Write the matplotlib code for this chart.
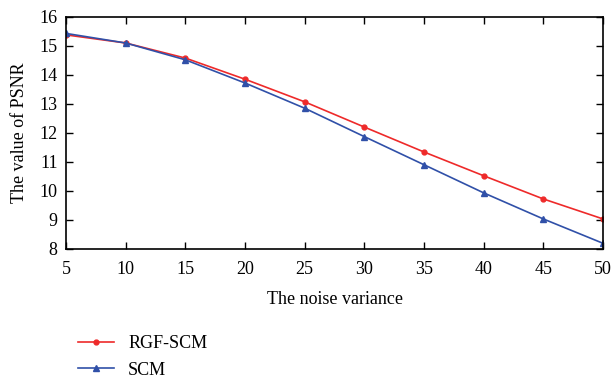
import matplotlib
matplotlib.use("Agg")
import matplotlib.pyplot as plt

plt.rcParams['font.family'] = ['Liberation Serif', 'DejaVu Serif']

noise = [5, 10, 15, 20, 25, 30, 35, 40, 45, 50]
rgf_scm = [15.38, 15.10, 14.58, 13.85, 13.07, 12.20, 11.34, 10.52, 9.72, 9.03]
scm = [15.43, 15.10, 14.52, 13.72, 12.85, 11.87, 10.90, 9.93, 9.03, 8.19]

fig = plt.figure(figsize=(6.11, 3.84), dpi=100)
ax = fig.add_axes([0.108, 0.352, 0.879, 0.604])

ax.plot(noise, rgf_scm, color='#ee2a2a', lw=1.2, marker='o', ms=3.5, label='RGF-SCM')
ax.plot(noise, scm, color='#3050a8', lw=1.2, marker='^', ms=4.5, label='SCM')

ax.set_xlim(5, 50)
ax.set_ylim(8, 16)
ax.set_xticks(noise)
ax.set_yticks(range(8, 17))
ax.tick_params(direction='in', top=True, right=True, labelsize=13, length=5, width=1)
ax.tick_params(axis='x', pad=9)
ax.tick_params(axis='y', pad=6)
for s in ax.spines.values():
    s.set_linewidth(1.2)

ax.set_xlabel('The noise variance', fontsize=13, labelpad=9)
ax.set_ylabel('The value of PSNR', fontsize=13, labelpad=8)

fig.legend(loc='upper left', bbox_to_anchor=(0.127, 0.128), frameon=False,
           fontsize=13, handlelength=2.0, handletextpad=0.8, labelspacing=0.55,
           borderpad=0, borderaxespad=0)

fig.savefig('out.png', dpi=100)
